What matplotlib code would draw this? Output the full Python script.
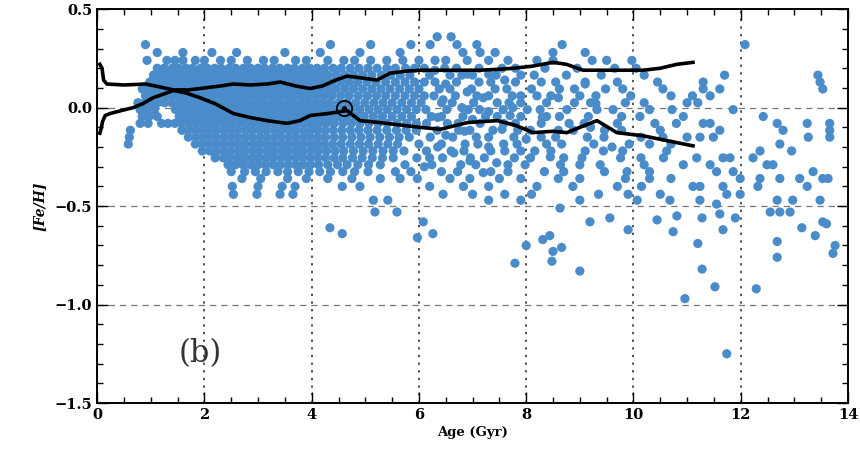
import numpy as np
import matplotlib
matplotlib.use('Agg')
import matplotlib.pyplot as plt
from matplotlib.ticker import MultipleLocator

# ages (Gyr) of stars, one list per [Fe/H] row
age_p36 = [6.34, 6.6]
age_p32 = [0.9, 4.35, 5.1, 5.85, 6.21, 6.71, 7.08, 8.67, 12.08]
age_p28 = [1.12, 1.6, 2.14, 2.6, 3.5, 4.16, 4.9, 5.65, 6.82, 7.14, 7.42, 8.5, 9.1]
age_p24 = [0.93, 1.3, 1.45, 1.6, 1.83, 2.0, 2.3, 2.5, 2.8, 3.1, 3.3, 3.7, 3.9, 4.3, 4.6, 4.8, 5.1,
           5.4, 5.7, 6.0, 6.3, 6.5, 6.9, 7.3, 7.66, 8.2, 8.5, 9.23, 9.5, 9.97]
age_p20 = [1.12, 1.25, 1.4, 1.52, 1.66, 1.78, 1.93, 2.05, 2.19, 2.31, 2.46, 2.58, 2.73, 2.86, 3.0,
           3.12, 3.27, 3.4, 3.55, 3.68, 3.83, 3.95, 4.1, 4.24, 4.4, 4.55, 4.72, 4.88, 5.05, 5.22,
           5.4, 5.56, 5.75, 5.92, 6.1, 6.48, 6.7, 7.12, 7.55, 7.8, 8.35, 8.95, 9.65, 10.05]
age_p16 = [1.05, 1.18, 1.32, 1.46, 1.59, 1.72, 1.86, 1.99, 2.12, 2.26, 2.39, 2.52, 2.66, 2.79, 2.93,
           3.06, 3.2, 3.33, 3.47, 3.6, 3.74, 3.88, 4.02, 4.16, 4.3, 4.46, 4.62, 4.78, 4.95, 5.12,
           5.3, 5.47, 5.65, 5.83, 6.2, 6.58, 6.8, 7.0, 7.44, 7.9, 8.15, 8.75, 9.4, 10.2, 11.7, 13.44]
age_p13 = [0.98, 1.12, 1.25, 1.39, 1.52, 1.66, 1.79, 1.92, 2.06, 2.19, 2.33, 2.46, 2.6, 2.73, 2.86,
           3.0, 3.13, 3.27, 3.4, 3.54, 3.67, 3.81, 3.95, 4.09, 4.23, 4.38, 4.54, 4.7, 4.86, 5.03,
           5.2, 5.38, 5.56, 5.74, 5.92, 6.1, 6.3, 6.7, 7.12, 7.34, 7.8, 8.28, 8.55, 9.1, 9.7, 10.45,
           11.3, 13.48]
age_p10 = [0.84, 0.95, 1.08, 1.2, 1.33, 1.46, 1.59, 1.72, 1.86, 1.99, 2.13, 2.26, 2.4, 2.53, 2.66,
           2.8, 2.93, 3.07, 3.2, 3.34, 3.47, 3.61, 3.74, 3.88, 4.02, 4.16, 4.31, 4.46, 4.62, 4.78,
           4.95, 5.12, 5.29, 5.46, 5.64, 5.82, 6.0, 6.38, 6.58, 6.98, 7.42, 7.64, 8.1, 8.62, 8.9,
           9.48, 9.8, 10.55, 11.3, 11.61, 13.53]
age_p06 = [0.9, 1.02, 1.15, 1.28, 1.41, 1.54, 1.67, 1.8, 1.93, 2.07, 2.2, 2.34, 2.47, 2.61, 2.74,
           2.87, 3.01, 3.14, 3.28, 3.41, 3.55, 3.68, 3.82, 3.95, 4.09, 4.23, 4.38, 4.54, 4.7, 4.87,
           5.04, 5.21, 5.38, 5.56, 5.74, 5.92, 6.1, 6.28, 6.68, 7.08, 7.3, 7.74, 8.2, 8.46, 9.0,
           9.3, 9.95, 10.7, 11.1, 11.43]
age_p02 = [0.76, 0.88, 1.0, 1.13, 1.26, 1.39, 1.52, 1.65, 1.78, 1.91, 2.04, 2.17, 2.31, 2.44, 2.57,
           2.71, 2.84, 2.98, 3.11, 3.25, 3.38, 3.52, 3.65, 3.79, 3.92, 4.06, 4.2, 4.34, 4.5, 4.66,
           4.82, 4.99, 5.16, 5.33, 5.5, 5.68, 5.86, 6.04, 6.42, 6.62, 7.02, 7.46, 7.68, 7.9, 8.38,
           8.9, 9.2, 9.85, 10.2, 11.0, 11.2]
age_m01 = [0.8, 0.94, 1.07, 1.46, 1.59, 1.72, 1.85, 1.98, 2.11, 2.24, 2.38, 2.51, 2.64, 2.78, 2.91,
           3.05, 3.18, 3.32, 3.45, 3.59, 3.72, 3.86, 3.99, 4.13, 4.27, 4.42, 4.58, 4.74, 4.9, 5.07,
           5.24, 5.41, 5.59, 5.77, 5.95, 6.13, 6.52, 6.92, 7.13, 7.57, 8.02, 8.26, 8.76, 9.32, 9.62,
           10.3, 10.72, 11.86]
age_m05 = [0.84, 0.97, 1.12, 1.53, 1.66, 1.79, 1.92, 2.05, 2.18, 2.31, 2.45, 2.58, 2.71, 2.85, 2.98,
           3.12, 3.25, 3.39, 3.52, 3.66, 3.79, 3.93, 4.06, 4.2, 4.35, 4.5, 4.66, 4.82, 4.98, 5.15,
           5.32, 5.5, 5.68, 5.86, 6.23, 6.42, 6.82, 7.24, 7.46, 7.9, 8.38, 8.62, 9.16, 9.78, 10.12,
           10.93, 12.42]
age_m08 = [0.8, 0.95, 1.2, 1.32, 1.45, 1.58, 1.72, 1.85, 1.98, 2.11, 2.25, 2.38, 2.51, 2.65, 2.78,
           2.92, 3.05, 3.19, 3.32, 3.46, 3.59, 3.73, 3.86, 4.0, 4.13, 4.27, 4.42, 4.58, 4.74, 4.9,
           5.07, 5.24, 5.41, 5.59, 5.77, 5.95, 6.14, 6.53, 6.73, 7.14, 7.58, 7.8, 8.28, 8.8, 9.08,
           9.7, 10.4, 10.8, 11.3, 11.43, 12.68, 13.24, 13.66]
age_m12 = [0.62, 1.58, 1.7, 1.83, 1.96, 2.09, 2.22, 2.36, 2.49, 2.62, 2.76, 2.89, 3.03, 3.16, 3.3,
           3.43, 3.57, 3.7, 3.84, 3.97, 4.11, 4.25, 4.4, 4.56, 4.72, 4.88, 5.05, 5.22, 5.4, 5.58,
           5.76, 5.95, 6.34, 6.74, 6.95, 7.38, 7.84, 8.08, 8.6, 8.88, 9.46, 9.78, 10.5, 11.61, 12.79,
           13.66]
age_m15 = [0.6, 1.7, 1.84, 1.97, 2.1, 2.23, 2.37, 2.5, 2.63, 2.77, 2.9, 3.04, 3.17, 3.31, 3.44, 3.58,
           3.71, 3.85, 3.98, 4.12, 4.26, 4.42, 4.58, 4.75, 4.92, 5.09, 5.27, 5.45, 5.63, 5.82, 6.21,
           6.63, 7.07, 7.3, 7.77, 8.28, 8.55, 9.14, 9.45, 10.14, 10.55, 11.0, 11.24, 11.49, 13.26,
           13.66]
age_m19 = [0.58, 1.83, 1.96, 2.09, 2.22, 2.35, 2.49, 2.62, 2.75, 2.89, 3.02, 3.16, 3.29, 3.43, 3.56,
           3.7, 3.83, 3.97, 4.1, 4.24, 4.39, 4.55, 4.72, 4.89, 5.06, 5.24, 5.42, 5.6, 6.0, 6.42,
           6.86, 7.1, 7.58, 7.83, 8.38, 8.66, 9.26, 9.92, 10.3, 10.7, 12.73]
age_m22 = [1.96, 2.1, 2.23, 2.37, 2.5, 2.64, 2.77, 2.91, 3.04, 3.18, 3.31, 3.45, 3.58, 3.72, 3.85,
           3.99, 4.13, 4.28, 4.44, 4.6, 4.78, 4.96, 5.14, 5.33, 5.52, 5.72, 6.14, 6.6, 6.84, 7.34,
           7.6, 8.16, 8.46, 9.1, 9.44, 9.8, 10.62, 12.36, 12.95]
age_m26 = [2.2, 2.35, 2.48, 2.62, 2.75, 2.89, 3.02, 3.16, 3.29, 3.43, 3.56, 3.7, 3.83, 3.97, 4.11,
           4.26, 4.42, 4.58, 4.76, 4.94, 5.13, 5.32, 5.52, 5.96, 6.2, 6.44, 6.96, 7.22, 7.78, 8.08,
           8.7, 9.04, 9.76, 10.14, 10.56, 11.18, 11.67, 11.8, 12.23]
age_m29 = [2.44, 2.58, 2.72, 2.86, 3.0, 3.14, 3.28, 3.42, 3.56, 3.7, 3.84, 3.98, 4.13, 4.3, 4.48,
           4.66, 4.86, 5.06, 5.28, 5.74, 6.24, 6.78, 7.06, 7.66, 7.98, 8.64, 9.0, 9.38, 10.2, 10.93,
           11.43, 12.49, 12.6]
age_m33 = [2.5, 2.75, 2.95, 3.15, 3.37, 3.55, 3.75, 3.95, 4.15, 4.35, 4.58, 4.8, 5.05, 5.56, 5.85,
           6.42, 6.72, 7.34, 7.66, 8.34, 8.7, 9.46, 9.88, 10.3, 11.55, 11.86, 13.35]
age_m36 = [2.7, 3.05, 3.55, 3.9, 4.3, 4.75, 5.28, 5.65, 5.97, 6.58, 6.95, 7.5, 7.9, 8.6, 9.0, 9.85,
           10.3, 10.7, 11.99, 12.36, 12.73, 13.1, 13.53, 13.63]
age_m40 = [2.52, 3.0, 3.45, 3.69, 4.57, 4.9, 6.2, 6.83, 7.3, 8.2, 8.87, 9.7, 10.15, 11.11, 11.24,
           11.67, 12.32, 13.24]
age_m44 = [2.54, 2.98, 3.41, 3.65, 6.45, 7.0, 7.6, 8.1, 9.35, 9.9, 10.5, 11.74, 11.99]
age_m47 = [5.15, 5.42, 7.3, 7.9, 9.0, 10.07, 10.68, 11.24, 12.68, 12.97, 13.48]

row_feh = [0.36, 0.32, 0.28, 0.24, 0.20, 0.165, 0.13, 0.095, 0.06, 0.025, -0.01, -0.045, -0.08,
           -0.115, -0.15, -0.185, -0.22, -0.255, -0.29, -0.325, -0.36, -0.40, -0.44, -0.47]
row_age = [age_p36, age_p32, age_p28, age_p24, age_p20, age_p16, age_p13, age_p10, age_p06,
           age_p02, age_m01, age_m05, age_m08, age_m12, age_m15, age_m19, age_m22, age_m26,
           age_m29, age_m33, age_m36, age_m40, age_m44, age_m47]

# extra stars filling the 6-10 Gyr band
mid_age = [6.3, 6.9, 7.3, 7.6, 6.5, 6.9, 7.2, 7.9, 6.45, 6.8, 7.3, 7.75, 6.35, 7.0, 7.7, 6.5, 6.85,
           7.55, 8.0, 6.35, 6.65, 7.3, 7.9, 6.95, 7.45, 6.1, 7.2, 8.3, 8.6, 9.2, 9.1, 8.45, 9.6, 9.3]
mid_feh = [0.19, 0.17, 0.17, 0.14, 0.12, 0.08, 0.05, 0.06, 0.04, 0.0, -0.02, 0.0, -0.05, -0.06,
           -0.04, -0.14, -0.12, -0.11, -0.16, -0.2, -0.23, -0.2, -0.22, -0.27, -0.28, -0.3, -0.33,
           -0.05, 0.05, -0.1, 0.12, -0.25, -0.2, 0.02]

# metal-poor stragglers
out_age = [4.34, 4.57, 5.97, 6.08, 6.26, 5.18, 5.59, 7.79, 8.0, 8.31, 8.44, 8.5, 8.66, 8.48, 9.0,
           9.19, 9.56, 9.9, 10.44, 10.74, 10.81, 10.96, 11.2, 11.28, 11.52, 11.67, 11.74, 12.29,
           12.68, 12.68, 13.14, 13.39, 13.6, 13.76, 13.72, 12.55, 12.73, 12.92, 11.28, 11.55, 11.61,
           11.9, 8.63, 13.53]
out_feh = [-0.61, -0.64, -0.66, -0.58, -0.64, -0.53, -0.53, -0.79, -0.70, -0.67, -0.65, -0.73,
           -0.71, -0.78, -0.83, -0.58, -0.56, -0.62, -0.57, -0.63, -0.55, -0.97, -0.69, -0.82,
           -0.91, -0.62, -1.25, -0.92, -0.68, -0.76, -0.61, -0.65, -0.59, -0.70, -0.74, -0.53,
           -0.53, -0.53, -0.56, -0.49, -0.54, -0.56, -0.51, -0.58]

# running mean +/- curves
up_age = [0.05, 0.09, 0.12, 0.18, 0.5, 0.9, 1.17, 1.42, 1.7, 2.0, 2.3, 2.54, 2.85, 3.17, 3.41, 3.7,
          3.97, 4.2, 4.45, 4.66, 4.95, 5.22, 5.46, 5.75, 6.02, 6.5, 7.14, 7.5, 7.76, 8.1, 8.5, 8.75,
          9.06, 9.5, 10.18, 10.5, 10.81, 11.11]
up_feh = [0.22, 0.20, 0.14, 0.12, 0.115, 0.12, 0.105, 0.09, 0.09, 0.10, 0.11, 0.12, 0.115, 0.12,
          0.13, 0.11, 0.097, 0.11, 0.14, 0.16, 0.15, 0.14, 0.175, 0.185, 0.19, 0.19, 0.19, 0.195,
          0.20, 0.21, 0.23, 0.22, 0.19, 0.19, 0.19, 0.20, 0.22, 0.23]
lo_age = [0.05, 0.08, 0.1, 0.15, 0.24, 0.45, 0.67, 0.85, 1.04, 1.25, 1.42, 1.65, 1.92, 2.2, 2.54,
          2.85, 3.17, 3.54, 3.78, 3.97, 4.3, 4.66, 4.9, 5.28, 5.7, 6.02, 6.4, 6.9, 7.46, 7.8, 8.13,
          8.5, 8.76, 9.0, 9.32, 9.69, 10.18, 10.63, 11.11]
lo_feh = [-0.13, -0.10, -0.07, -0.04, -0.03, -0.015, 0.0, 0.02, 0.05, 0.07, 0.087, 0.075, 0.05,
          0.02, -0.03, -0.05, -0.066, -0.08, -0.066, -0.04, -0.03, -0.015, -0.066, -0.076, -0.09,
          -0.10, -0.11, -0.076, -0.066, -0.09, -0.127, -0.12, -0.127, -0.10, -0.066, -0.127,
          -0.143, -0.168, -0.194]

sun_age, sun_feh = 4.6, 0.0

ages = np.concatenate([np.array(a, dtype=float) for a in row_age]
                      + [np.array(mid_age), np.array(out_age)])
fehs = np.concatenate([np.full(len(a), f) for a, f in zip(row_age, row_feh)]
                      + [np.array(mid_feh), np.array(out_feh)])

plt.rcParams['font.family'] = ['DejaVu Serif']
fig = plt.figure(figsize=(8.6, 4.59), dpi=100)
ax = fig.add_axes([0.113, 0.122, 0.873, 0.858])

for gx in [2, 4, 6, 8, 10, 12]:
    ax.axvline(gx, color='#222222', lw=1.1, ls=(0, (1.5, 3.5)), zorder=1)
for gy in [0.0, -0.5, -1.0]:
    ax.axhline(gy, color='#777777', lw=0.9, ls=(0, (5, 4)), zorder=1)

ax.scatter(ages, fehs, s=44, c='#4a8cc9', edgecolors='none', zorder=2)

ax.plot(up_age, up_feh, color='black', lw=2.6, zorder=3)
ax.plot(lo_age, lo_feh, color='black', lw=2.6, zorder=3)
ax.plot(sun_age, sun_feh, 'o', ms=11, mfc='none', mec='black', mew=1.3, zorder=4)
ax.plot(sun_age, sun_feh, 'o', ms=2.5, color='black', zorder=4)

ax.text(1.92, -1.25, '(b)', fontsize=22, ha='center', va='center', color='#333333')

ax.set_xlim(0, 14)
ax.set_ylim(-1.5, 0.5)
ax.xaxis.set_major_locator(MultipleLocator(2))
ax.xaxis.set_minor_locator(MultipleLocator(0.5))
ax.yaxis.set_major_locator(MultipleLocator(0.5))
ax.yaxis.set_minor_locator(MultipleLocator(0.1))
ax.tick_params(which='both', direction='in', top=True, right=True, width=1.0)
ax.tick_params(which='major', length=8)
ax.tick_params(which='minor', length=4)
ax.tick_params(axis='both', labelsize=10.5)
for lab in ax.get_xticklabels() + ax.get_yticklabels():
    lab.set_fontweight('bold')
ax.set_yticks([0.5, 0.0, -0.5, -1.0, -1.5])
ax.set_yticklabels(['0.5', '0.0', '\u22120.5', '\u22121.0', '\u22121.5'], fontweight='bold')
for sp in ax.spines.values():
    sp.set_linewidth(1.4)

ax.set_xlabel('Age (Gyr)', fontsize=9.5, fontweight='bold', labelpad=3)
ax.set_ylabel('[Fe/H]', fontsize=10, fontweight='bold', fontstyle='italic', labelpad=6)

fig.savefig('out.png', dpi=100)
